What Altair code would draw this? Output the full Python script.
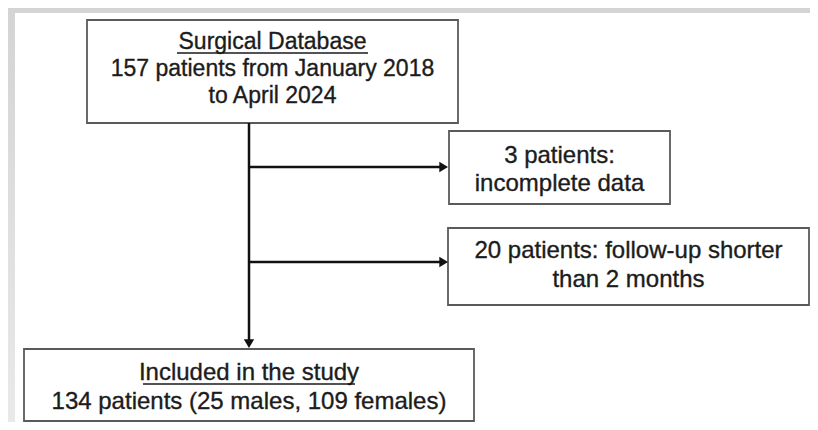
import altair as alt
import pandas as pd

# ---- content of the flow diagram ----
box_names = ["database", "excluded_incomplete", "excluded_followup", "included"]
box_lines = [
    ["Surgical Database", "157 patients from January 2018", "to April 2024"],
    ["3 patients:", "incomplete data"],
    ["20 patients: follow-up shorter", "than 2 months"],
    ["Included in the study", "134 patients (25 males, 109 females)"],
]
header_underlined = [True, False, False, True]
patient_counts = [157, 3, 20, 134]

# ---- layout (pixel grid of the 818x430 figure) ----
box_left = [87, 449, 448, 24]
box_right = [458, 670, 809, 474]
box_top = [20, 131, 228, 349]
box_bottom = [123, 204, 305, 421]
line_baselines = [[49, 76, 103], [163, 191], [258, 287], [380, 409]]
line_font_size = [23, 24, 24, 24]
underline_span = [(177, 368), None, None, (143, 355)]

trunk_x = 249
branch_y = [167, 262]
branch_tip_x = 448
trunk_top = 123
trunk_tip_y = 348

X0, Y0 = 8, 8          # page margin
X1, Y1 = 810, 422      # visible extent

boxes = pd.DataFrame({
    "name": box_names, "x": box_left, "x2": box_right,
    "y": box_top, "y2": box_bottom, "n": patient_counts,
})

text_rows = []
for i, lines in enumerate(box_lines):
    cx = (box_left[i] + box_right[i]) / 2
    for j, line in enumerate(lines):
        text_rows.append({"x": cx, "y": line_baselines[i][j], "text": line,
                          "size": line_font_size[i]})
texts = pd.DataFrame(text_rows)

ul_rows = []
for i, span in enumerate(underline_span):
    if header_underlined[i] and span:
        ul_rows.append({"x": span[0], "x2": span[1],
                        "y": line_baselines[i][0] + 4, "y2": line_baselines[i][0] + 4})
underlines = pd.DataFrame(ul_rows)

conn_rows = [{"x": trunk_x, "x2": trunk_x, "y": trunk_top, "y2": trunk_tip_y - 6}]
for by in branch_y:
    conn_rows.append({"x": trunk_x, "x2": branch_tip_x - 6, "y": by, "y2": by})
connectors = pd.DataFrame(conn_rows)

heads_right = pd.DataFrame({"x": [branch_tip_x] * len(branch_y), "y": branch_y})
heads_down = pd.DataFrame({"x": [trunk_x], "y": [trunk_tip_y]})

frame_top = pd.DataFrame({"x": [5], "x2": [X1], "y": [5], "y2": [13]})
frame_left = pd.DataFrame({"x": [5], "x2": [15], "y": [13], "y2": [Y1]})

xs = alt.Scale(domain=[X0, X1], nice=False, zero=False)
ys = alt.Scale(domain=[Y0, Y1], nice=False, zero=False, reverse=True)
X = lambda f="x": alt.X(f"{f}:Q", scale=xs, axis=None)
Y = lambda f="y": alt.Y(f"{f}:Q", scale=ys, axis=None)

band_top = alt.Chart(frame_top).mark_rect(color="#d4d4d4", clip=True).encode(
    x=X(), x2="x2", y=Y(), y2="y2")
band_left = alt.Chart(frame_left).mark_rect(
    clip=True,
    color=alt.Gradient(
        gradient="linear",
        stops=[alt.GradientStop(color="#d4d4d4", offset=0),
               alt.GradientStop(color="#e9e9e9", offset=1)],
        x1=0, x2=0, y1=0, y2=1),
).encode(x=X(), x2="x2", y=Y(), y2="y2")

box_layer = alt.Chart(boxes).mark_rect(
    fill="white", stroke="#5a5a5a", strokeWidth=1.8
).encode(x=X(), x2="x2", y=Y(), y2="y2", tooltip=["name", "n"])

conn_layer = alt.Chart(connectors).mark_rule(
    color="#111111", strokeWidth=2.5
).encode(x=X(), x2="x2", y=Y(), y2="y2")

head_r = alt.Chart(heads_right).mark_point(
    shape="M0,0L-1,-0.6L-1,0.6Z", filled=True, color="#111111", size=300, opacity=1
).encode(x=X(), y=Y())
head_d = alt.Chart(heads_down).mark_point(
    shape="M0,0L-0.6,-1L0.6,-1Z", filled=True, color="#111111", size=300, opacity=1
).encode(x=X(), y=Y())

text_layer = alt.Chart(texts).mark_text(
    font="Liberation Sans", color="#1c1c1c", align="center", baseline="alphabetic",
    stroke="#1c1c1c", strokeWidth=0.35
).encode(x=X(), y=Y(), text="text:N",
         size=alt.Size("size:Q", scale=None, legend=None))

ul_layer = alt.Chart(underlines).mark_rule(
    color="#1a1a1a", strokeWidth=1.5
).encode(x=X(), x2="x2", y=Y(), y2="y2")

chart = alt.layer(
    band_top, band_left, box_layer, conn_layer, head_r, head_d, text_layer, ul_layer
).properties(
    width=X1 - X0, height=Y1 - Y0, padding=0,
    autosize=alt.AutoSizeParams(type="none"),
).configure_view(stroke=None).configure(background="white")

chart.save("out.html", embed_options={"renderer": "svg", "actions": False})
